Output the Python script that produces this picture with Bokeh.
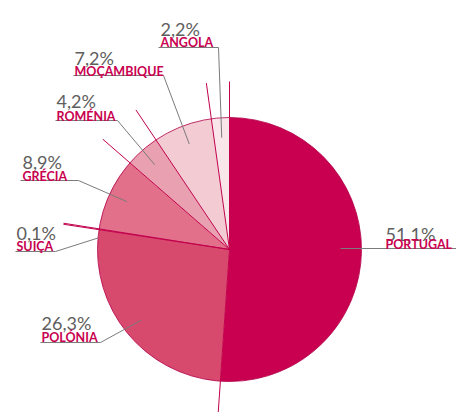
import numpy as np
from bokeh.plotting import figure
from bokeh.models import Range1d, ColumnDataSource
from bokeh.core.properties import value
from bokeh.embed import file_html
from bokeh.resources import INLINE

# ---- data ----
countries = ["PORTUGAL", "POLÓNIA", "SUIÇA", "GRÉCIA", "ROMÉNIA", "MOÇAMBIQUE", "ANGOLA"]
shares = [51.1, 26.3, 0.1, 8.9, 4.2, 7.2, 2.2]
pct_labels = ["51,1%", "26,3%", "0,1%", "8,9%", "4,2%", "7,2%", "2,2%"]
colors = ["#c9004f", "#d8496e", "#d8496e", "#e2708a", "#e9a0b0", "#f2cbd3", "#f9e6ea"]

# ---- layout (screen pixels, y downward) ----
W, H = 456, 412
CXp, CYp, R = 229, 249, 132
R_EXT = 168
lay = {
    "PORTUGAL":   dict(tx=385, py=233, ny=244, uy=248, ux0=340, ux1=456, ar=None, aa=None),
    "POLÓNIA":    dict(tx=41,  py=322, ny=337, uy=342, ux0=40,  ux1=100, ar=113, aa=None),
    "SUIÇA":      dict(tx=16,  py=232, ny=246, uy=251, ux0=15,  ux1=55,  ar=132, aa=175.0),
    "GRÉCIA":     dict(tx=22,  py=161, ny=176, uy=180, ux0=20,  ux1=78,  ar=113, aa=None),
    "ROMÉNIA":    dict(tx=56,  py=100, ny=116, uy=120, ux0=55,  ux1=117, ar=113, aa=None),
    "MOÇAMBIQUE": dict(tx=74,  py=57,  ny=71,  uy=75,  ux0=73,  ux1=163, ar=113, aa=None),
    "ANGOLA":     dict(tx=160, py=28,  ny=42,  uy=47,  ux0=158, ux1=218, ar=112, aa=None),
}

def Y(py):
    return H - py

CX, CY = CXp, Y(CYp)

p = figure(width=W, height=H, x_range=Range1d(0, W), y_range=Range1d(0, H),
           x_axis_type=None, y_axis_type=None, toolbar_location=None,
           output_backend="svg", min_border=0)
p.grid.visible = False
p.outline_line_color = None
p.background_fill_color = "white"
p.border_fill_color = "white"

cum = np.cumsum([0.0] + shares)
start_deg = 90 - cum[:-1] * 3.6
end_deg = 90 - cum[1:] * 3.6
mid_deg = (start_deg + end_deg) / 2

src = ColumnDataSource(dict(start=np.radians(start_deg), end=np.radians(end_deg), color=colors))
p.wedge(x=CX, y=CY, radius=R, start_angle="start", end_angle="end", direction="clock",
        fill_color="color", line_color=None, source=src)

# pie rim
p.circle(x=CX, y=CY, radius=R, fill_color=None, line_color="#b3004a", line_width=1, line_alpha=0.8)

# radial boundary lines, extended beyond the pie
a = np.radians(start_deg)
p.segment(x0=[CX] * len(a), y0=[CY] * len(a), x1=list(CX + R_EXT * np.cos(a)),
          y1=list(CY + R_EXT * np.sin(a)), line_color="#c2004c", line_width=1)

# leader lines
xs, ys = [], []
for i, c in enumerate(countries):
    L = lay[c]
    if L["ar"] is None:
        xs.append([L["ux0"], L["ux1"]])
        ys.append([Y(L["uy"]), Y(L["uy"])])
        continue
    ang = np.radians(L["aa"] if L["aa"] is not None else mid_deg[i])
    ax = CX + L["ar"] * np.cos(ang)
    ay = CY + L["ar"] * np.sin(ang)
    xs.append([L["ux0"], L["ux1"], ax])
    ys.append([Y(L["uy"]), Y(L["uy"]), ay])
p.multi_line(xs=xs, ys=ys, line_color="#7b7b7b", line_width=1)

# texts
tsrc = ColumnDataSource(dict(
    x=[lay[c]["tx"] for c in countries],
    py=[Y(lay[c]["py"]) for c in countries],
    ny=[Y(lay[c]["ny"]) for c in countries],
    pct=pct_labels, name=countries))
p.text(x="x", y="py", text="pct", source=tsrc, text_font=value("Lato"),
       text_font_size="18px", text_color="#5e5e5e", text_baseline="alphabetic", text_align="left")
p.text(x="x", y="ny", text="name", source=tsrc, text_font=value("Lato"), text_font_style="bold",
       text_font_size="12.5px", text_color="#c8004f", text_baseline="alphabetic", text_align="left")

open("out.html", "w").write(file_html(p, INLINE))
